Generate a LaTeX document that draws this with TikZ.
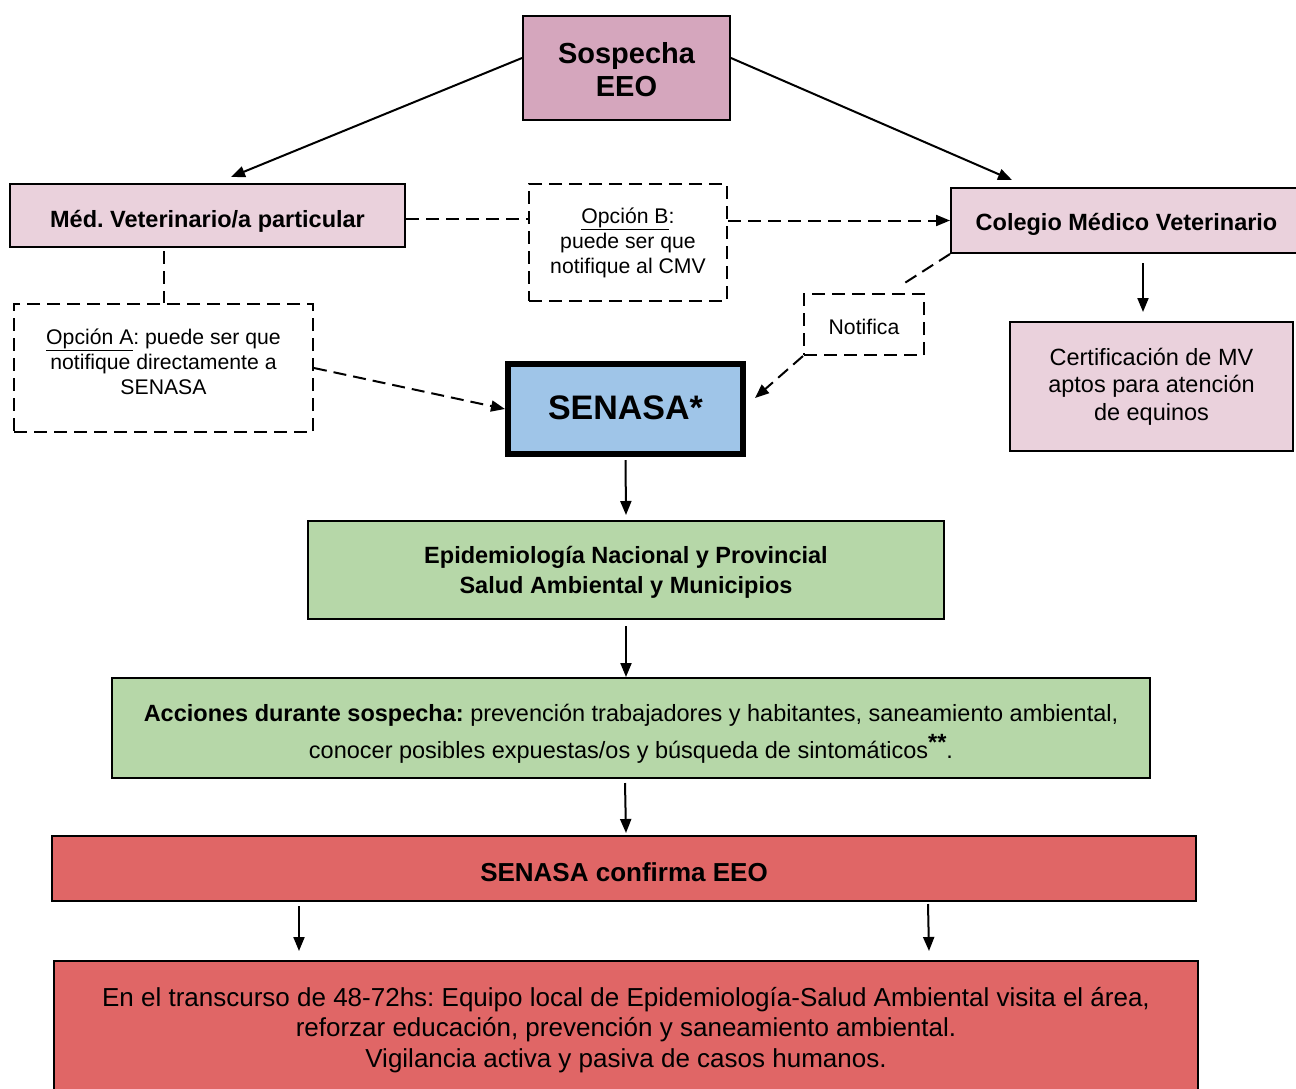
\documentclass[tikz,border=0pt]{standalone}
\usepackage{fontspec}
\setmainfont{Liberation Sans}
\usetikzlibrary{arrows.meta}
\definecolor{pinkA}{HTML}{D5A6BD}
\definecolor{pinkB}{HTML}{EAD1DC}
\definecolor{blueA}{HTML}{9FC5E8}
\definecolor{greenA}{HTML}{B6D7A8}
\definecolor{redA}{HTML}{E06666}
\frenchspacing
\newcommand\fsTitle{\fontsize{29}{33}\selectfont}
\newcommand\fsLab{\fontsize{23.5}{27.5}\selectfont}
\newcommand\fsDash{\fontsize{21.2}{25}\selectfont}
\newcommand\fsBig{\fontsize{26}{30.5}\selectfont}
\begin{document}
\begin{tikzpicture}[x=1pt,y=-1pt,
  box/.style={draw, line width=2pt, inner sep=0pt},
  dbox/.style={draw, line width=2pt, inner sep=0pt, dash pattern=on 13pt off 7pt},
  txt/.style={inner sep=0pt, align=center},
  arr/.style={line width=2pt, -{Triangle[length=14pt,width=11pt]}},
  darr/.style={line width=2pt, dash pattern=on 13pt off 7pt, -{Triangle[length=14pt,width=11pt]}},
  dline/.style={line width=2pt, dash pattern=on 13pt off 7pt}]
\useasboundingbox (0,0) rectangle (1296,1088);
\clip (0,0) rectangle (1296,1088);
\fill[white] (0,0) rectangle (1296,1088);

% boxes
\node[box, fill=pinkA, minimum width=207pt, minimum height=104pt] (sosp) at (626.5,68) {};
\node[box, fill=pinkB, minimum width=395pt, minimum height=63pt] (medvet) at (207.5,215.5) {};
\node[box, fill=pinkB, minimum width=351pt, minimum height=65pt] (colegio) at (1126.5,220.5) {};
\node[dbox, fill=white, minimum width=198pt, minimum height=117pt] (opB) at (628,242.5) {};
\node[dbox, fill=white, minimum width=299pt, minimum height=128pt] (opA) at (163.5,368) {};
\node[dbox, fill=white, minimum width=120pt, minimum height=61pt] (notif) at (864,324.5) {};
\node[box, line width=6pt, fill=blueA, minimum width=235pt, minimum height=90pt] (senasa) at (625.5,409) {};
\node[box, fill=pinkB, minimum width=283pt, minimum height=129pt] (cert) at (1151.5,386.5) {};
\node[box, fill=greenA, minimum width=636pt, minimum height=98pt] (epi) at (626,570) {};
\node[box, fill=greenA, minimum width=1038pt, minimum height=100pt] (acc) at (631,728) {};
\node[box, fill=redA, minimum width=1144pt, minimum height=65pt] (conf) at (624,868.5) {};
\node[box, fill=redA, minimum width=1144pt, minimum height=134pt] (bot) at (626,1028) {};

% texts
\node[txt, font=\fsTitle\bfseries] (sosp-t) at ([shift={(0,2)}]sosp.center) {Sospecha\\EEO};
\node[txt, font=\fsLab\bfseries] (medvet-t) at ([shift={(0,6)}]medvet.center) {Méd. Veterinario/a particular};
\node[txt, font=\fsLab\bfseries] (colegio-t) at ([shift={(0,4)}]colegio.center) {Colegio Médico Veterinario};
\node[txt, font=\fsDash] (opB-t) at ([shift={(0,0.5)}]opB.center) {\underline{Opción B}:\\puede ser que\\notifique al CMV};
\node[txt, font=\fsDash] (opA-t) at ([shift={(0,-6)}]opA.center) {\underline{Opción A}: puede ser que\\notifique directamente a\\SENASA};
\node[txt, font=\fsDash] (notif-t) at ([shift={(0,2)}]notif.center) {Notifica};
\node[txt, font=\fontsize{34}{38}\selectfont\bfseries] (senasa-t) at ([shift={(0,-1)}]senasa.center) {SENASA*};
\node[txt, font=\fsLab] (cert-t) at (cert.center) {Certificación de MV\\aptos para atención\\de equinos};
\node[txt, font=\fontsize{23.5}{30}\selectfont\bfseries] (epi-t) at ([shift={(0,2)}]epi.center) {Epidemiología Nacional y Provincial\\Salud Ambiental y Municipios};
\node[txt, font=\fontsize{23.5}{37}\selectfont] (acc-t) at ([shift={(0,6)}]acc.center) {\textbf{Acciones durante sospecha:} prevención trabajadores y habitantes, saneamiento ambiental,\\conocer posibles expuestas/os y búsqueda de sintomáticos\raisebox{0.35em}{\textbf{**}}.};
\node[txt, font=\fontsize{26}{30}\selectfont\bfseries] (conf-t) at ([shift={(0,4)}]conf.center) {SENASA confirma EEO};
\node[txt, font=\fsBig] (bot-t) at ([shift={(0,2)}]bot.center) {En el transcurso de 48-72hs: Equipo local de Epidemiología-Salud Ambiental visita el área,\\reforzar educación, prevención y saneamiento ambiental.\\Vigilancia activa y pasiva de casos humanos.};

% connectors
\draw[arr] ([shift={(0,-10)}]sosp.west) -- ([shift={(222,-6)}]medvet.north west);
\draw[arr] ([shift={(0,-10)}]sosp.east) -- ([shift={(62,-7)}]colegio.north west);
\draw[dline] ([shift={(0,3)}]medvet.east) -- ([shift={(0,3)}]medvet.east -| opB.west);
\draw[darr] (opB.east |- colegio.west) -- (colegio.west);
\draw[dline] ([shift={(0,3)}]medvet.south -| opA.north) -- (opA.north);
\draw[darr] (opA.east) -- (senasa.west);
\draw[dline] (colegio.south west) -- ([shift={(97,-7)}]notif.north west);
\draw[darr] (notif.south west) -- ([shift={(9,-11)}]senasa.east);
\draw[arr] ([shift={(16.5,9)}]colegio.south) -- ([shift={(-8.5,-9)}]cert.north);
\draw[arr] ([shift={(0,3)}]senasa.south) -- ([shift={(0,-5)}]epi.north);
\draw[arr] ([shift={(0,6)}]epi.south) -- ([shift={(-5,0)}]acc.north);
\draw[arr] ([shift={(-6,4)}]acc.south) -- ([shift={(2,-2)}]conf.north);
\draw[arr] ([shift={(248,4)}]conf.south west) -- ([shift={(246,-9)}]bot.north west);
\draw[arr] ([shift={(877,2)}]conf.south west) -- ([shift={(876,-9)}]bot.north west);
\end{tikzpicture}
\end{document}
